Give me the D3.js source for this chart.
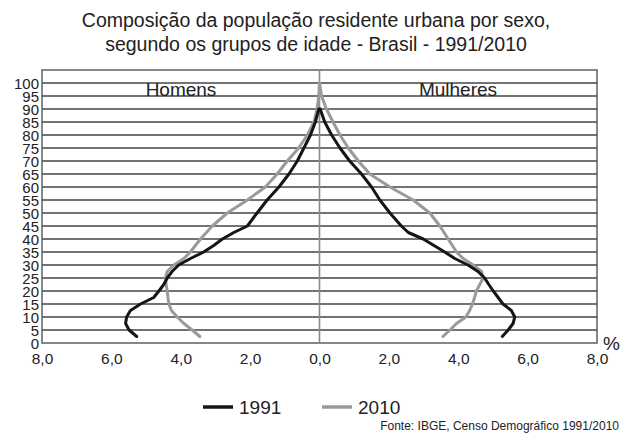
<!DOCTYPE html>
<html><head><meta charset="utf-8">
<script src="https://cdn.jsdelivr.net/npm/d3@7/dist/d3.min.js"></script>
<style>body{margin:0;background:#fff}svg{display:block}text{font-family:"Liberation Sans",Arial,sans-serif;fill:#222}</style>
</head><body><svg id="c" width="632" height="434"></svg>
<script>
const ages = [2.5,5,7.5,10,12.5,15,17.5,20,22.5,25,27.5,30,32.5,35,37.5,40,42.5,45,50,55,60,65,70,75,80,85,90,95,100];
const men1991 = [5.27,5.49,5.59,5.56,5.45,5.16,4.78,4.63,4.49,4.39,4.25,4.06,3.72,3.34,3.05,2.80,2.47,2.08,1.80,1.51,1.17,0.88,0.64,0.45,0.26,0.12,0.02,null,null];
const men2010 = [3.45,3.67,3.91,4.10,4.27,4.34,4.37,4.39,4.42,4.44,4.39,4.20,3.91,3.72,3.58,3.43,3.26,3.09,2.66,2.08,1.56,1.22,0.93,0.60,0.35,0.16,0.07,0.02,0];
const women1991 = [5.27,5.44,5.58,5.63,5.53,5.29,5.15,5.01,4.88,4.76,4.57,4.28,3.90,3.61,3.30,2.99,2.56,2.36,2.03,1.74,1.50,1.21,0.87,0.59,0.35,0.15,0.02,null,null];
const women2010 = [3.56,3.76,3.95,4.22,4.33,4.41,4.47,4.52,4.62,4.72,4.67,4.43,4.14,3.95,3.83,3.71,3.59,3.47,3.18,2.70,2.03,1.45,1.12,0.83,0.59,0.39,0.20,0.06,0];
const yTicks = d3.range(0,101,5);
const xTicks = [-8,-6,-4,-2,0,2,4,6,8];
const xTickLabels = ["8,0","6,0","4,0","2,0","0,0","2,0","4,0","6,0","8,0"];
const titleLines = ["Composição da população residente urbana por sexo,","segundo os grupos de idade - Brasil - 1991/2010"];
const seriesNames = ["1991","2010"];
const colors = {"1991":"#151515","2010":"#9a9a9a"};

const svg = d3.select("#c");
const L=42, R=597, T=70, B=343;
const x = d3.scaleLinear().domain([-8,8]).range([L,R]);
const y = d3.scaleLinear().domain([0,105]).range([B,T]);

// title
svg.append("g").selectAll("text").data(titleLines).join("text")
  .attr("x",316).attr("y",(d,i)=>27+i*24).attr("text-anchor","middle")
  .style("font-size","19.5px").text(d=>d);

// gridlines
svg.append("g").selectAll("line").data(yTicks.filter(d=>d>0)).join("line")
  .attr("x1",L).attr("x2",R).attr("y1",d=>y(d)).attr("y2",d=>y(d))
  .attr("stroke","#444").attr("stroke-width",1.5);

// border
svg.append("rect").attr("x",L).attr("y",T).attr("width",R-L).attr("height",B-T)
  .attr("fill","none").attr("stroke","#555").attr("stroke-width",1.4);
// center line
svg.append("line").attr("x1",x(0)).attr("x2",x(0)).attr("y1",T).attr("y2",B)
  .attr("stroke","#8a8a8a").attr("stroke-width",1.6);

// y axis labels
const yAxis = d3.axisLeft(y).tickValues(yTicks).tickSize(0).tickPadding(3);
const ga = svg.append("g").attr("transform",`translate(${L},0)`).call(yAxis);
ga.select(".domain").remove();
ga.selectAll("text").style("font-size","15px").attr("fill","#222").style("font-family","Liberation Sans, Arial, sans-serif").attr("dy","0.36em");

// x axis labels
const xAxis = d3.axisBottom(x).tickValues(xTicks).tickSize(0).tickPadding(10).tickFormat((d,i)=>xTickLabels[i]);
const gx = svg.append("g").attr("transform",`translate(0,${B})`).call(xAxis);
gx.select(".domain").remove();
gx.selectAll("text").style("font-size","15.5px").attr("fill","#222").style("font-family","Liberation Sans, Arial, sans-serif");

svg.append("text").attr("x",603).attr("y",350).style("font-size","19px").text("%");

// section labels
svg.append("text").attr("x",181).attr("y",96).attr("text-anchor","middle").style("font-size","19px").text("Homens");
svg.append("text").attr("x",458).attr("y",96).attr("text-anchor","middle").style("font-size","19px").text("Mulheres");

// lines
const line = d3.line().defined(d=>d[1]!=null).x(d=>x(d[1])).y(d=>y(d[0]));
const series = [
  {name:"2010", side:-1, vals:men2010},
  {name:"2010", side:1, vals:women2010},
  {name:"1991", side:-1, vals:men1991},
  {name:"1991", side:1, vals:women1991}
];
svg.append("g").selectAll("path").data(series).join("path")
  .attr("d",s=>line(ages.map((a,i)=>[a, s.vals[i]==null?null:s.side*s.vals[i]])))
  .attr("fill","none").attr("stroke",s=>colors[s.name]).attr("stroke-width",3)
  .attr("stroke-linejoin","round").attr("stroke-linecap","round");

// legend
const lg = svg.append("g").selectAll("g").data(seriesNames).join("g")
  .attr("transform",(d,i)=>`translate(${203+i*119},407)`);
lg.append("line").attr("x1",0).attr("x2",30).attr("stroke",d=>colors[d]).attr("stroke-width",3.5);
lg.append("text").attr("x",36).attr("y",7).style("font-size","19px").text(d=>d);

svg.append("text").attr("x",619).attr("y",430).attr("text-anchor","end").style("font-size","12px").attr("fill","#333").text("Fonte: IBGE, Censo Demográfico 1991/2010");
</script></body></html>
